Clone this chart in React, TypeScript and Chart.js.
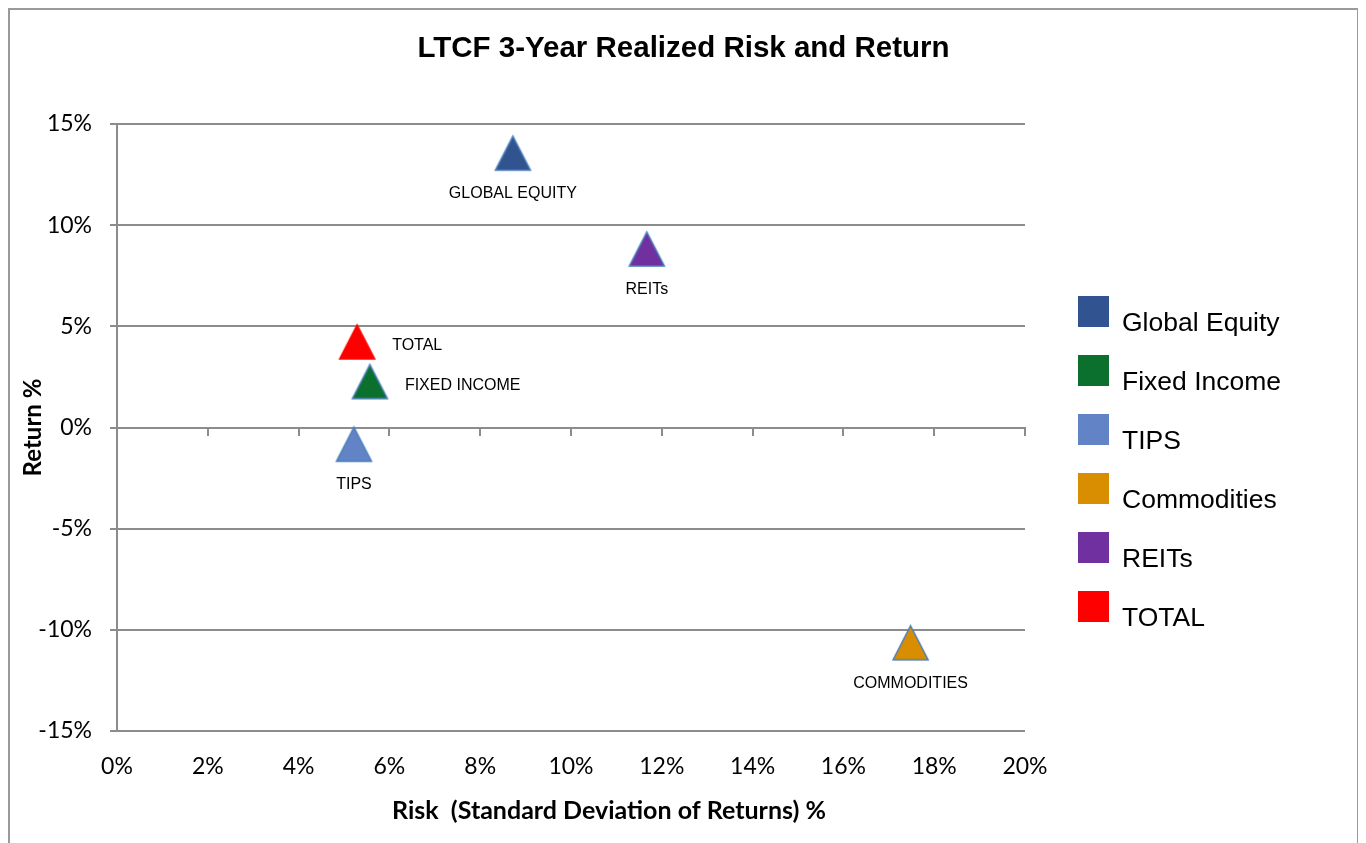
import React, { useEffect, useRef } from 'react';
import { Chart, registerables } from 'chart.js';

Chart.register(...registerables);

// ---------- data ----------
const seriesNames = ['Global Equity', 'Fixed Income', 'TIPS', 'Commodities', 'REITs', 'TOTAL'];
const pointLabels = ['GLOBAL EQUITY', 'FIXED INCOME', 'TIPS', 'COMMODITIES', 'REITs', 'TOTAL'];
const riskValues = [8.72, 5.57, 5.22, 17.48, 11.67, 5.29];
const returnValues = [13.56, 2.27, -0.83, -10.64, 8.82, 4.23];
const xTickValues = [0, 2, 4, 6, 8, 10, 12, 14, 16, 18, 20];
const yTickValues = [-15, -10, -5, 0, 5, 10, 15];
const chartTitle = 'LTCF 3-Year Realized Risk and Return';
const xAxisTitle = 'Risk  (Standard Deviation of Returns) %';
const yAxisTitle = 'Return %';

// ---------- styles ----------
const seriesColors = ['#31538F', '#0B6F2D', '#6284C6', '#D88E00', '#7030A0', '#FF0000'];
const markerBorders = ['#4A7EBB', '#4A7EBB', '#4A7EBB', '#4A7EBB', '#4A7EBB', '#FF0000'];
const labelPlacement = ['below', 'right', 'below', 'below', 'below', 'right'];
const gridColor = '#8c8c8c';
const tickFont = { family: 'Lato', size: 23 };

function makeTriangle(fill: string, stroke: string): HTMLCanvasElement {
  const w = 35, h = 34, pad = 2;
  const c = document.createElement('canvas');
  c.width = w + pad * 2;
  c.height = h + pad * 2;
  const ctx = c.getContext('2d')!;
  ctx.beginPath();
  ctx.moveTo(pad + w / 2, pad);
  ctx.lineTo(pad + w, pad + h);
  ctx.lineTo(pad, pad + h);
  ctx.closePath();
  ctx.fillStyle = fill;
  ctx.fill();
  ctx.lineWidth = 1.5;
  ctx.strokeStyle = stroke;
  ctx.stroke();
  return c;
}

const decorPlugin = {
  id: 'decor',
  afterDatasetsDraw(chart: any) {
    const { ctx, chartArea } = chart;
    ctx.save();
    ctx.fillStyle = '#000';
    // data labels
    ctx.font = '16px "Liberation Sans"';
    ctx.textBaseline = 'alphabetic';
    chart.data.datasets.forEach((_ds: any, i: number) => {
      const el = chart.getDatasetMeta(i).data[0];
      if (!el) return;
      if (labelPlacement[i] === 'below') {
        ctx.textAlign = 'center';
        ctx.fillText(pointLabels[i], el.x, el.y + 45);
      } else {
        ctx.textAlign = 'left';
        ctx.fillText(pointLabels[i], el.x + 35, el.y + 8);
      }
    });
    // chart title
    ctx.font = 'bold 29.5px "Liberation Sans"';
    ctx.textAlign = 'center';
    ctx.fillText(chartTitle, chart.width / 2, 47);
    // x axis title
    ctx.font = 'bold 25px Lato';
    ctx.textBaseline = 'middle';
    ctx.fillText(xAxisTitle, (chartArea.left + chartArea.right) / 2 + 38, chartArea.bottom + 80);
    // legend
    const lx = chartArea.right + 53;
    const ly = chartArea.top + 172;
    ctx.textAlign = 'left';
    ctx.textBaseline = 'alphabetic';
    ctx.font = '26.5px "Liberation Sans"';
    chart.data.datasets.forEach((ds: any, i: number) => {
      const top = ly + i * 59;
      ctx.fillStyle = seriesColors[i];
      ctx.fillRect(lx, top, 31, 31);
      ctx.fillStyle = '#000';
      ctx.fillText(ds.label, lx + 44, top + 35);
    });
    ctx.restore();
  },
};

export default function App() {
  const ref = useRef<HTMLCanvasElement>(null);
  useEffect(() => {
    if (!ref.current) return;
    const datasets = seriesNames.map((name, i) => {
      const tri = makeTriangle(seriesColors[i], markerBorders[i]);
      return {
        label: name,
        data: [{ x: riskValues[i], y: returnValues[i] }],
        pointStyle: tri,
        pointRadius: 18,
        pointHoverRadius: 18,
        backgroundColor: seriesColors[i],
        borderColor: markerBorders[i],
        showLine: false,
      };
    });
    const setX = (s: any) => { s.ticks = xTickValues.map((v) => ({ value: v })); };
    const setY = (s: any) => { s.ticks = yTickValues.map((v) => ({ value: v })); };
    const chart = new Chart(ref.current, {
      type: 'scatter',
      data: { datasets },
      plugins: [decorPlugin],
      options: {
        animation: false,
        responsive: false,
        events: [],
        layout: { padding: { top: 114, right: 332, left: 0, bottom: 0 } },
        plugins: { legend: { display: false }, title: { display: false }, tooltip: { enabled: false } },
        scales: {
          x: {
            type: 'linear',
            position: 'bottom',
            min: 0,
            max: 20,
            afterBuildTicks: setX,
            afterFit: (s: any) => { s.height = 112; },
            grid: { display: false, drawTicks: false },
            border: { display: false },
            ticks: { font: tickFont, color: '#000', padding: 22, maxRotation: 0, callback: (v: any) => v + '%' },
          },
          x2: {
            type: 'linear',
            position: { y: 0 },
            min: 0,
            max: 20,
            afterBuildTicks: setX,
            grid: { display: true, drawOnChartArea: false, drawTicks: true, tickLength: 7, color: gridColor, lineWidth: 2 },
            border: { display: true, color: gridColor, width: 2 },
            ticks: { display: false },
          },
          y: {
            type: 'linear',
            position: 'left',
            min: -15,
            max: 15,
            afterBuildTicks: setY,
            afterFit: (s: any) => { s.width = 107; },
            grid: { color: gridColor, lineWidth: 2, drawTicks: true, tickLength: 7 },
            border: { display: true, color: gridColor, width: 2 },
            ticks: { font: tickFont, color: '#000', padding: 18, callback: (v: any) => v + '%' },
            title: { display: true, text: yAxisTitle, color: '#000', font: { family: 'Lato', size: 24, weight: 'bold' }, padding: { top: 8.6, bottom: 0 } },
          },
        },
      } as any,
    });
    return () => chart.destroy();
  }, []);
  return (
    <div style={{ border: '2px solid #9a9a9a', borderBottom: 'none', width: 1347, height: 833, background: '#fff' }}>
      <canvas ref={ref} width={1347} height={833} style={{ display: 'block' }} />
    </div>
  );
}
